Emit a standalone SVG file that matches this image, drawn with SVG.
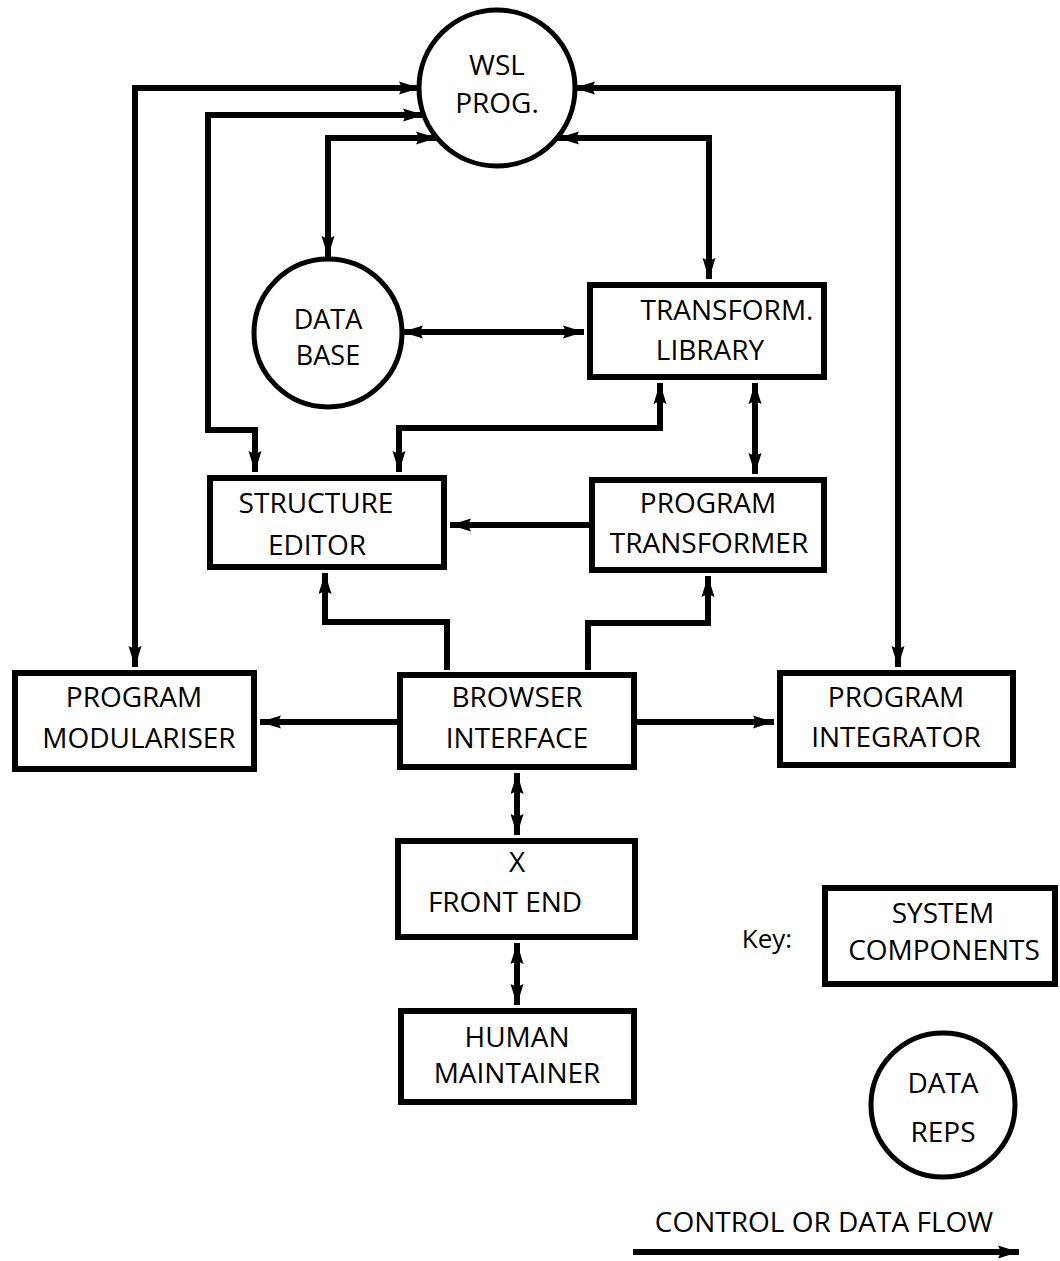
<svg xmlns="http://www.w3.org/2000/svg" width="1060" height="1261" viewBox="0 0 1060 1261">
<style>
.box{fill:#fff;stroke:#000;stroke-width:6}
.circ{fill:#fff;stroke:#000;stroke-width:5}
.t{font-family:"Open Sans","Noto Sans",sans-serif;font-size:28px;fill:#000;text-anchor:middle}
.c{fill:none;stroke:#000;stroke-width:6;stroke-linejoin:miter}
.two{marker-start:url(#ah);marker-end:url(#ah)}
.one{marker-end:url(#ah)}
</style>
<defs>
<marker id="ah" markerUnits="userSpaceOnUse" markerWidth="22" markerHeight="16" viewBox="0 0 22 16" refX="21" refY="8" orient="auto-start-reverse">
<path d="M0,1.5 L21,8 L0,14.5 L3,8 Z" fill="#000"/>
</marker>
</defs>
<g id="connectors">
<path class="c two" d="M135,667 V88 H420"/>
<path class="c two" d="M255,472 V430 H208 V115 H424"/>
<path class="c two" d="M328,257 V138 H437"/>
<path class="c two" d="M898,667 V88 H574"/>
<path class="c two" d="M709,279 V138 H558"/>
<path class="c two" d="M402,332 H584"/>
<path class="c two" d="M660,383 V428 H399 V472"/>
<path class="c two" d="M755,383 V474"/>
<path class="c one" d="M589,525 H450"/>
<path class="c one" d="M447,670 V622 H325 V573"/>
<path class="c one" d="M588,670 V623 H708 V576"/>
<path class="c one" d="M397,722 H260"/>
<path class="c one" d="M637,722 H774"/>
<path class="c two" d="M517,773 V835"/>
<path class="c two" d="M517,943 V1005"/>
</g>
<g id="wsl-prog">
<circle class="circ" cx="497" cy="88" r="78"/>
<text class="t" x="497" y="75">WSL</text>
<text class="t" x="497" y="113">PROG.</text>
</g>
<g id="data-base">
<circle class="circ" cx="328" cy="333" r="74"/>
<text class="t" x="328" y="329" style="font-size:27px">DATA</text>
<text class="t" x="328" y="365" style="font-size:27px">BASE</text>
</g>
<g id="transform-library">
<rect class="box" x="590" y="285" width="234" height="92"/>
<text class="t" x="727" y="320">TRANSFORM.</text>
<text class="t" x="710" y="360">LIBRARY</text>
</g>
<g id="structure-editor">
<rect class="box" x="210" y="478" width="234" height="89"/>
<text class="t" x="316" y="513">STRUCTURE</text>
<text class="t" x="317" y="555">EDITOR</text>
</g>
<g id="program-transformer">
<rect class="box" x="592" y="480" width="232" height="90"/>
<text class="t" x="708" y="513">PROGRAM</text>
<text class="t" x="709" y="553">TRANSFORMER</text>
</g>
<g id="program-modulariser">
<rect class="box" x="15" y="673" width="239" height="96"/>
<text class="t" x="134" y="707">PROGRAM</text>
<text class="t" x="139" y="748">MODULARISER</text>
</g>
<g id="browser-interface">
<rect class="box" x="400" y="675" width="234" height="92"/>
<text class="t" x="517" y="707">BROWSER</text>
<text class="t" x="517" y="748">INTERFACE</text>
</g>
<g id="program-integrator">
<rect class="box" x="780" y="673" width="233" height="92"/>
<text class="t" x="896" y="707">PROGRAM</text>
<text class="t" x="896" y="747">INTEGRATOR</text>
</g>
<g id="x-front-end">
<rect class="box" x="398" y="841" width="237" height="96"/>
<text class="t" x="517" y="872">X</text>
<text class="t" x="505" y="912">FRONT END</text>
</g>
<g id="human-maintainer">
<rect class="box" x="401" y="1011" width="233" height="91"/>
<text class="t" x="517" y="1047">HUMAN</text>
<text class="t" x="517" y="1083">MAINTAINER</text>
</g>
<g id="key">
<text class="t" x="767" y="948" style="font-size:26px">Key:</text>
<g id="key-system-components">
<rect class="box" x="825" y="888" width="230" height="96"/>
<text class="t" x="943" y="923">SYSTEM</text>
<text class="t" x="944" y="960">COMPONENTS</text>
</g>
<g id="key-data-reps">
<circle class="circ" cx="943" cy="1105" r="72"/>
<text class="t" x="943" y="1093">DATA</text>
<text class="t" x="943" y="1142">REPS</text>
</g>
<g id="key-flow">
<text class="t" x="824" y="1232">CONTROL OR DATA FLOW</text>
<path class="c one" d="M633,1252 H1019"/>
</g>
</g>
</svg>
